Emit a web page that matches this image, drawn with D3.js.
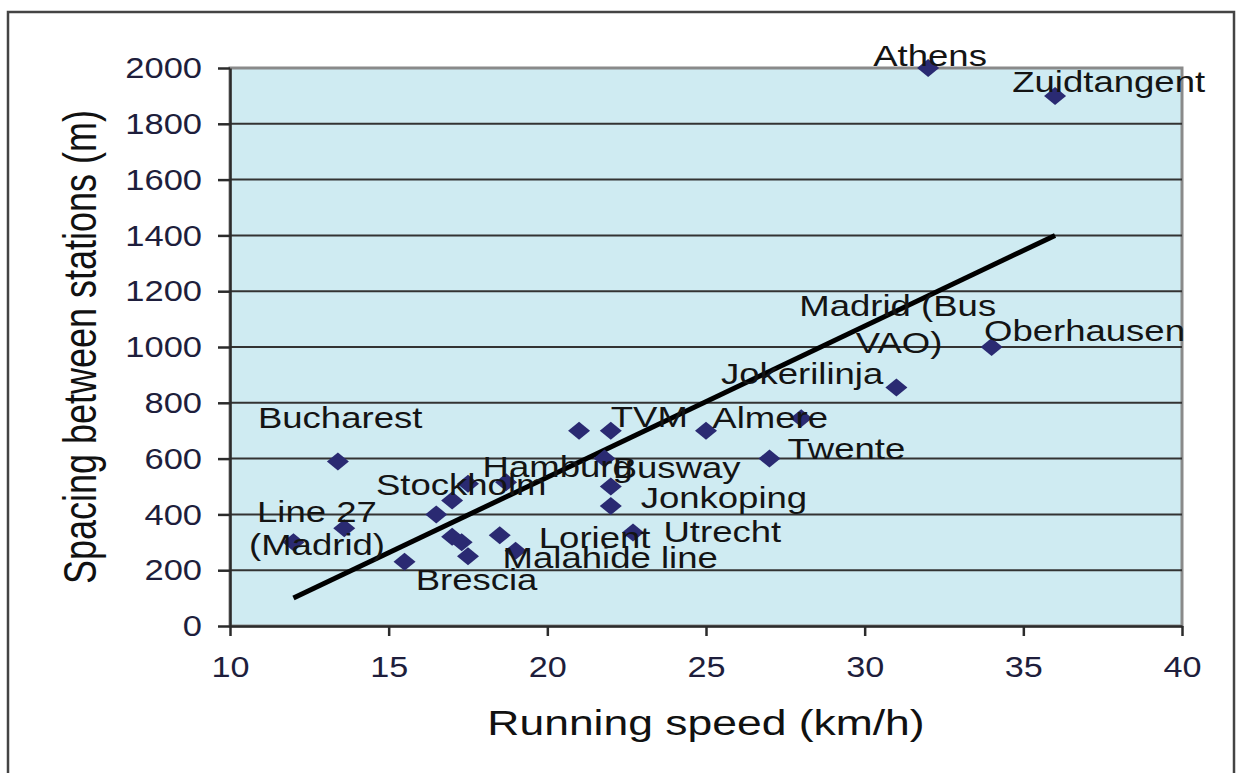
<!DOCTYPE html>
<html>
<head>
<meta charset="utf-8">
<script src="https://cdn.jsdelivr.net/npm/d3@7"></script>
<style>
  body { margin: 0; background: #fff; }
  svg { display: block; font-family: "Liberation Sans", Arial, sans-serif; }
  .grid line { stroke: #333; stroke-width: 2; }
  .axis path, .axis line { stroke: #2b2b2b; stroke-width: 2.5; }
  .axis text { fill: #1e1e3c; font-size: 30px; }
</style>
</head>
<body>
<svg id="chart" width="1236" height="773"></svg>
<script>
// running speed (km/h) and station spacing (m), one entry per marker
var speeds  = [32, 36, 34, 31, 28, 25, 27, 21, 22, 21.8, 22, 22, 22.7,
               18.5, 19, 17.5, 18.7, 17, 16.5, 17, 17.3, 17.5, 15.5, 13.6, 12, 13.4];
var spacing = [2000, 1900, 1000, 855, 745, 700, 600, 700, 700, 600, 500, 430, 335,
               325, 270, 510, 515, 450, 400, 320, 300, 250, 230, 350, 300, 590];

// trend line end points
var trendX = [12, 36];
var trendY = [100, 1400];

// city labels and where their text starts (km/h, m)
var labelNames = ["Athens", "Zuidtangent", "Oberhausen", "Madrid (Bus", "VAO)", "Jokerilinja",
                  "Almere", "Twente", "TVM", "Hamburg", "Busway", "Jonkoping", "Utrecht",
                  "Lorient", "Malahide line", "Stockholm", "Bucharest", "Line 27", "(Madrid)", "Brescia"];
var labelX = [30.27, 34.65, 33.76, 27.94, 29.72, 25.47, 25.2, 27.57, 22.0, 17.96, 22.06, 22.94, 23.66,
              19.73, 18.59, 14.6, 10.88, 10.85, 10.6, 15.85];
var labelY = [2007, 1914, 1020, 1111, 978, 867, 710, 600, 713, 534, 530, 423, 301,
              280, 208, 470, 710, 373, 254, 129];

var xTicks = [10, 15, 20, 25, 30, 35, 40];
var yTicks = [0, 200, 400, 600, 800, 1000, 1200, 1400, 1600, 1800, 2000];

var xTitle = "Running speed (km/h)",
    yTitle = "Spacing between stations (m)";

var svg = d3.select("#chart"),
    margin = {top: 68, right: 54, bottom: 147, left: 230},
    width = 1236 - margin.left - margin.right,
    height = 773 - margin.top - margin.bottom;

var x = d3.scaleLinear().domain([10, 40]).range([0, width]),
    y = d3.scaleLinear().domain([0, 2000]).range([height, 0]);

// outer chart frame (bottom edge runs off the picture)
svg.append("rect")
    .attr("x", 8).attr("y", 12)
    .attr("width", 1226).attr("height", 800)
    .attr("fill", "none")
    .attr("stroke", "#444")
    .attr("stroke-width", 2.5);

var g = svg.append("g").attr("transform", "translate(" + margin.left + "," + margin.top + ")");

g.append("rect")
    .attr("width", width).attr("height", height)
    .attr("fill", "#cfebf2")
    .attr("stroke", "#8a8a8a")
    .attr("stroke-width", 3);

g.append("g").attr("class", "grid")
  .selectAll("line").data(yTicks.filter(function(d) { return d > 0 && d < 2000; }))
  .enter().append("line")
    .attr("x1", 0).attr("x2", width)
    .attr("y1", function(d) { return y(d); })
    .attr("y2", function(d) { return y(d); });

var yAxis = g.append("g").attr("class", "axis")
    .call(d3.axisLeft(y).tickValues(yTicks).tickSize(12).tickSizeOuter(0).tickFormat(d3.format("d")));
yAxis.selectAll("text")
    .attr("x", -28 / 1.15)
    .attr("transform", "scale(1.15,1)");

var xAxis = g.append("g").attr("class", "axis")
    .attr("transform", "translate(0," + height + ")")
    .call(d3.axisBottom(x).tickValues(xTicks).tickSize(10).tickSizeOuter(0));
xAxis.selectAll("text")
    .attr("y", 51).attr("dy", 0)
    .attr("transform", "scale(1.14,1)");

// trend line
g.append("path")
    .datum(d3.zip(trendX, trendY))
    .attr("fill", "none")
    .attr("stroke", "#000")
    .attr("stroke-width", 5)
    .attr("d", d3.line().x(function(d) { return x(d[0]); }).y(function(d) { return y(d[1]); }));

// diamond markers
var diamond = "M0,-9L11,0L0,9L-11,0Z";
g.append("g").selectAll("path")
    .data(d3.zip(speeds, spacing))
  .enter().append("path")
    .attr("d", diamond)
    .attr("fill", "#2a2a72")
    .attr("transform", function(d) { return "translate(" + x(d[0]) + "," + y(d[1]) + ")"; });

// labels
g.append("g").selectAll("text")
    .data(d3.zip(labelNames, labelX, labelY))
  .enter().append("text")
    .text(function(d) { return d[0]; })
    .attr("font-size", 29)
    .attr("fill", "#141414")
    .attr("transform", function(d) {
      return "translate(" + x(d[1]) + "," + y(d[2]) + ") scale(1.26,1)";
    });

// axis titles
svg.append("text")
    .text(xTitle)
    .attr("font-size", 35)
    .attr("fill", "#111")
    .attr("text-anchor", "middle")
    .attr("transform", "translate(" + (margin.left + width / 2) + ",735) scale(1.27,1)");

svg.append("text")
    .text(yTitle)
    .attr("font-size", 36)
    .attr("fill", "#111")
    .attr("text-anchor", "middle")
    .attr("transform", "translate(96," + (margin.top + 279) + ") scale(1.27,1) rotate(-90)");
</script>
</body>
</html>
